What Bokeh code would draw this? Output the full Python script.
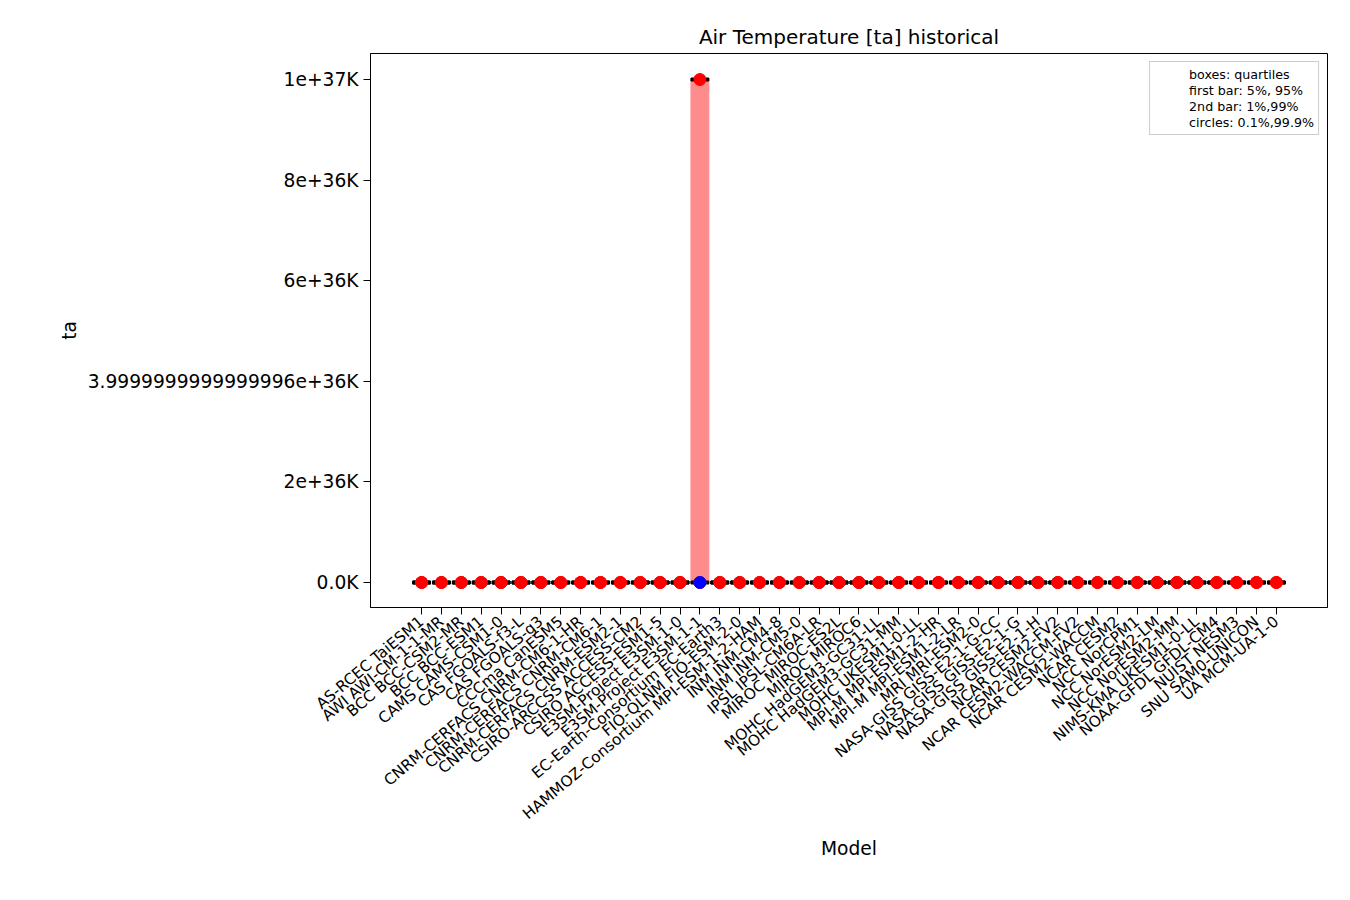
from bokeh.plotting import figure
from bokeh.embed import file_html
from bokeh.resources import INLINE
from bokeh.models import FixedTicker, Range1d, Legend, LegendItem, ColumnDataSource
import math

models = ["AS-RCEC TaiESM1","AWI AWI-CM-1-1-MR","BCC BCC-CSM2-MR","BCC BCC-ESM1","CAMS CAMS-CSM1-0",
"CAS FGOALS-f3-L","CAS FGOALS-g3","CCCma CanESM5","CNRM-CERFACS CNRM-CM6-1-HR","CNRM-CERFACS CNRM-CM6-1",
"CNRM-CERFACS CNRM-ESM2-1","CSIRO-ARCCSS ACCESS-CM2","CSIRO ACCESS-ESM1-5","E3SM-Project E3SM-1-0",
"E3SM-Project E3SM-1-1","EC-Earth-Consortium EC-Earth3","FIO-QLNM FIO-ESM-2-0","HAMMOZ-Consortium MPI-ESM-1-2-HAM",
"INM INM-CM4-8","INM INM-CM5-0","IPSL IPSL-CM6A-LR","MIROC MIROC-ES2L","MIROC MIROC6","MOHC HadGEM3-GC31-LL",
"MOHC HadGEM3-GC31-MM","MOHC UKESM1-0-LL","MPI-M MPI-ESM1-2-HR","MPI-M MPI-ESM1-2-LR","MRI MRI-ESM2-0",
"NASA-GISS GISS-E2-1-G-CC","NASA-GISS GISS-E2-1-G","NASA-GISS GISS-E2-1-H","NCAR CESM2-FV2","NCAR CESM2-WACCM-FV2",
"NCAR CESM2-WACCM","NCAR CESM2","NCC NorCPM1","NCC NorESM2-LM","NCC NorESM2-MM","NIMS-KMA UKESM1-0-LL",
"NOAA-GFDL GFDL-CM4","NUIST NESM3","SNU SAM0-UNICON","UA MCM-UA-1-0"]
n = len(models)
# quartiles, whiskers and extreme circles (K); all near 0 on this scale except E3SM-1-1
q1 = [0.0]*n
q3 = [0.0]*14 + [1e37] + [0.0]*29
p99 = [0.0]*14 + [1e37] + [0.0]*29
p01 = [0.0]*n
p999 = [0.0]*14 + [1e37] + [0.0]*29
blue_model = ["E3SM-Project E3SM-1-1"]
blue_val = [0.0]

yticks = [0, 2e36, 4e36, 6e36, 8e36, 1e37]
ytick_labels = ["0.0K","2e+36K","3.9999999999999996e+36K","6e+36K","8e+36K","1e+37K"]

xs = list(range(n))
src = ColumnDataSource(dict(x=xs, q1=q1, q3=q3, p99=p99, p01=p01, p999=p999))

p = figure(width=1342, height=880, output_backend="svg", toolbar_location=None,
           x_range=Range1d(-2.57, n - 1 + 2.57), y_range=Range1d(-0.0497e37, 1.0517e37),
           title="Air Temperature [ta] historical", min_border_left=370, min_border_right=15,
           min_border_top=53, min_border_bottom=273)
p.xgrid.visible = False
p.ygrid.visible = False
p.outline_line_color = "black"
p.title.align = "center"
p.title.text_font = "DejaVu Sans"
p.title.text_font_size = "15pt"
p.title.text_font_style = "normal"
p.title.text_color = "black"

p.vbar(x="x", bottom="q1", top="q3", width=0.9, color="#ff8c8c", source=src)
p.rect(x="x", y="p99", width=0.9, height=3, height_units="screen", color="black", source=src)
p.rect(x="x", y="p01", width=0.9, height=3, height_units="screen", color="black", source=src)
p.scatter(x="x", y="p999", size=12, color="red", source=src)
p.scatter(x="x", y="p01", size=12, color="red", source=src)
p.scatter(x=[models.index(m) for m in blue_model], y=blue_val, size=12, color="blue")

p.xaxis.ticker = FixedTicker(ticks=xs)
p.xaxis.major_label_overrides = {i: m for i, m in enumerate(models)}
p.xaxis.major_label_orientation = math.radians(40)
p.xaxis.major_label_text_font_size = "11.5pt"
p.yaxis.ticker = FixedTicker(ticks=yticks)
p.yaxis.major_label_overrides = {t: l for t, l in zip(yticks, ytick_labels)}
p.yaxis.major_label_text_font_size = "14pt"
for ax in (p.xaxis, p.yaxis):
    ax.major_label_text_font = "DejaVu Sans"
    ax.major_label_text_color = "black"
    ax.axis_label_text_font = "DejaVu Sans"
    ax.axis_label_text_color = "black"
    ax.axis_label_text_font_style = "normal"
    ax.axis_label_text_font_size = "14pt"
    ax.minor_tick_line_color = None
    ax.major_tick_out = 7
    ax.major_tick_in = 0
p.xaxis.axis_label = "Model"
p.yaxis.axis_label = "ta"

dummy = p.scatter(x=[0], y=[0], alpha=0)
items = [LegendItem(label=t, renderers=[dummy]) for t in
         ["boxes: quartiles", "first bar: 5%, 95%", "2nd bar: 1%,99%", "circles: 0.1%,99.9%"]]
leg = Legend(items=items, location="top_right", label_text_font_size="9.5pt", label_text_font="DejaVu Sans",
             label_text_color="black", glyph_width=30, glyph_height=16, label_height=16, spacing=0, padding=4,
             margin=8, border_line_color="#cccccc", border_line_alpha=1.0)
p.add_layout(leg)

open("out.html", "w").write(file_html(p, INLINE))
